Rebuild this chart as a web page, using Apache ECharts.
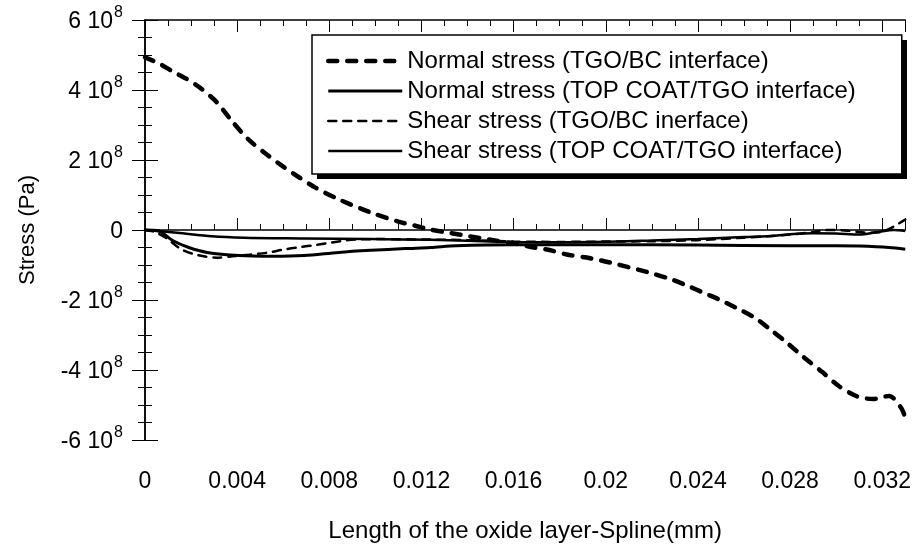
<!DOCTYPE html>
<html>
<head>
<meta charset="utf-8">
<script src="https://cdn.jsdelivr.net/npm/echarts@6/dist/echarts.min.js"></script>
<style>
  html, body { margin: 0; padding: 0; background: #fff; }
  #chart { width: 914px; height: 548px; }
</style>
</head>
<body>
<div id="chart"></div>
<script>
// Stress along the oxide layer spline. x in mm, stress in units of 1e8 Pa.
const normalTgoBc = [
  [0, 4.93], [0.0006, 4.76], [0.0012, 4.53], [0.0018, 4.32], [0.0024, 4.06],
  [0.0031, 3.66], [0.0038, 3.09], [0.0045, 2.58], [0.0053, 2.15], [0.0060, 1.81],
  [0.0067, 1.50], [0.0074, 1.21], [0.0084, 0.88], [0.0098, 0.50], [0.0110, 0.24],
  [0.0117, 0.13], [0.0124, 0.01], [0.0133, -0.09], [0.0149, -0.27], [0.0160, -0.38],
  [0.0169, -0.50], [0.0176, -0.58], [0.0183, -0.70], [0.0191, -0.78], [0.0198, -0.87],
  [0.0205, -0.98], [0.0219, -1.22], [0.0228, -1.40], [0.0235, -1.58], [0.0243, -1.81],
  [0.0249, -1.98], [0.0258, -2.27], [0.0265, -2.52], [0.0271, -2.82], [0.0279, -3.24],
  [0.0286, -3.64], [0.0294, -4.06], [0.0301, -4.45], [0.0309, -4.75], [0.0316, -4.83],
  [0.0323, -4.74], [0.0328, -5.06], [0.0330, -5.35]
];
const normalTopCoatTgo = [
  [0, 0], [0.0006, -0.03], [0.0012, -0.30], [0.0019, -0.50], [0.0027, -0.64],
  [0.0041, -0.73], [0.0055, -0.75], [0.0069, -0.73], [0.0084, -0.64], [0.0098, -0.58],
  [0.0113, -0.53], [0.0124, -0.50], [0.0135, -0.45], [0.0160, -0.42], [0.0200, -0.42],
  [0.0240, -0.43], [0.0280, -0.45], [0.0300, -0.45], [0.0310, -0.46], [0.0323, -0.50],
  [0.0330, -0.55]
];
const shearTgoBc = [
  [0, 0], [0.0004, -0.05], [0.0009, -0.22], [0.0016, -0.56], [0.0023, -0.72],
  [0.0031, -0.79], [0.0038, -0.75], [0.0053, -0.65], [0.0060, -0.56], [0.0067, -0.49],
  [0.0074, -0.43], [0.0081, -0.36], [0.0087, -0.30], [0.0092, -0.27], [0.0100, -0.26],
  [0.0120, -0.27], [0.0140, -0.29], [0.0160, -0.33], [0.0180, -0.34], [0.0200, -0.33],
  [0.0220, -0.32], [0.0240, -0.29], [0.0260, -0.22], [0.0270, -0.18], [0.0280, -0.13],
  [0.0290, -0.06], [0.0295, 0.0], [0.0300, 0.0], [0.0305, -0.02], [0.0310, -0.06],
  [0.0315, -0.08], [0.0320, -0.05], [0.0325, 0.10], [0.0330, 0.30]
];
const shearTopCoatTgo = [
  [0, 0], [0.0014, -0.08], [0.0029, -0.18], [0.0043, -0.22], [0.0069, -0.24],
  [0.0098, -0.26], [0.0124, -0.28], [0.0140, -0.31], [0.0160, -0.34], [0.0180, -0.35],
  [0.0205, -0.33], [0.0220, -0.30], [0.0240, -0.26], [0.0260, -0.20], [0.0270, -0.18],
  [0.0280, -0.12], [0.0290, -0.09], [0.0300, -0.10], [0.0310, -0.13], [0.0318, -0.06],
  [0.0325, 0.0], [0.0330, -0.03]
];

const seriesNames = [
  'Normal stress (TGO/BC interface)',
  'Normal stress (TOP COAT/TGO interface)',
  'Shear stress (TGO/BC inerface)',
  'Shear stress (TOP COAT/TGO interface)'
];
const xTickLabels = ['0', '0.004', '0.008', '0.012', '0.016', '0.02', '0.024', '0.028', '0.032'];
const yTickMantissas = ['-6', '-4', '-2', '0', '2', '4', '6'];

const X_MAX = 0.033, X_MAJOR = 0.004, X_MINOR = 0.001;
const Y_MIN = -6e8, Y_MAX = 6e8, Y_MAJOR = 2e8;
const FONT = '"Liberation Sans", Arial, Helvetica, sans-serif';

const toPa = pts => pts.map(p => [p[0], p[1] * 1e8]);

function xLabel(v) {
  const i = Math.round(v / X_MAJOR);
  if (Math.abs(v - i * X_MAJOR) > 1e-9 || i < 0 || i >= xTickLabels.length) return '';
  return xTickLabels[i];
}
function yLabel(v) {
  const i = Math.round((v - Y_MIN) / Y_MAJOR);
  const m = yTickMantissas[i];
  if (m === undefined) return '';
  if (m === '0') return '{b|0}';
  return '{b|' + m + ' 10}{s|8}';
}

// line styles shared by each series and its legend key
const styles = [
  { color: '#000', width: 4.5, type: [9, 10], cap: 'round' },
  { color: '#000', width: 3, type: 'solid' },
  { color: '#000', width: 2.5, type: [8, 7], cap: 'round' },
  { color: '#000', width: 2.5, type: 'solid' }
];
const seriesData = [normalTgoBc, normalTopCoatTgo, shearTgoBc, shearTopCoatTgo];

const frameLine = { show: true, lineStyle: { color: '#000', width: 1.5 } };

const xBase = { type: 'value', min: 0, max: X_MAX, splitLine: { show: false }, axisLine: frameLine };
const yBase = { type: 'value', min: Y_MIN, max: Y_MAX, interval: Y_MAJOR, splitLine: { show: false }, axisLine: frameLine };

// legend box geometry (box is left/top + padding + content), and its solid drop shadow
const LEGEND_LEFT = 312, LEGEND_TOP = 35, LEGEND_W = 590, LEGEND_H = 139, SHADOW = 5;

const chart = echarts.init(document.getElementById('chart'), null, { renderer: 'canvas' });
chart.setOption({
  backgroundColor: '#fff',
  animation: false,
  textStyle: { fontFamily: FONT, color: '#000' },
  grid: { left: 145, right: 5, top: 20, bottom: 108, containLabel: false },
  graphic: [{
    type: 'rect', z: 5, zlevel: 0,
    shape: { x: LEGEND_LEFT + SHADOW, y: LEGEND_TOP + SHADOW, width: LEGEND_W, height: LEGEND_H },
    style: { fill: '#000' }
  }],
  legend: {
    orient: 'vertical',
    left: LEGEND_LEFT,
    top: LEGEND_TOP,
    z: 6,
    data: seriesNames.map((name, i) => ({
      name: name,
      lineStyle: { color: '#000', width: styles[i].width, type: styles[i].type, cap: styles[i].cap || 'butt' }
    })),
    itemWidth: 74,
    itemHeight: 14,
    itemGap: 6,
    padding: [14, 46, 11, 14],
    backgroundColor: '#fff',
    borderColor: '#000',
    borderWidth: 1.5,
    borderRadius: 0,
    selectedMode: false,
    // line-only keys: hide the marker drawn on top of each key line
    itemStyle: { color: 'transparent', borderColor: 'transparent', borderWidth: 0, opacity: 0 },
    textStyle: { fontFamily: FONT, fontSize: 24, color: '#000' }
  },
  xAxis: [
    Object.assign({}, xBase, {
      position: 'bottom', interval: X_MAJOR,
      axisTick: { show: true, inside: true, length: 12, lineStyle: { color: '#000', width: 1 } },
      axisLabel: { show: true, margin: 30, fontSize: 23, color: '#000', fontFamily: FONT, formatter: xLabel },
      name: 'Length of the oxide layer-Spline(mm)',
      nameLocation: 'middle', nameGap: 79,
      nameTextStyle: { fontSize: 24, color: '#000', fontFamily: FONT }
    }),
    Object.assign({}, xBase, {
      position: 'bottom', interval: X_MINOR, axisLine: { show: false },
      axisTick: { show: true, inside: true, length: 6, lineStyle: { color: '#000', width: 1 } },
      axisLabel: { show: false }
    }),
    Object.assign({}, xBase, {
      position: 'top', interval: X_MAJOR,
      axisTick: { show: true, inside: true, length: 12, lineStyle: { color: '#000', width: 1 } },
      axisLabel: { show: false }
    }),
    Object.assign({}, xBase, {
      position: 'top', interval: X_MINOR, axisLine: { show: false },
      axisTick: { show: true, inside: true, length: 6, lineStyle: { color: '#000', width: 1 } },
      axisLabel: { show: false }
    })
  ],
  yAxis: [
    Object.assign({}, yBase, {
      position: 'left',
      axisTick: { show: true, inside: true, length: 13, lineStyle: { color: '#000', width: 1 } },
      minorTick: { show: true, splitNumber: 4, length: 7, lineStyle: { color: '#000', width: 1 } },
      axisLabel: {
        show: true, margin: 22, formatter: yLabel,
        rich: {
          b: { fontSize: 23, fontFamily: FONT, color: '#000', lineHeight: 26, verticalAlign: 'bottom' },
          s: { fontSize: 16, fontFamily: FONT, color: '#000', lineHeight: 16, verticalAlign: 'bottom', padding: [0, 0, 12, 1] }
        }
      },
      name: 'Stress (Pa)',
      nameLocation: 'middle', nameGap: 106,
      nameTextStyle: { fontSize: 22, color: '#000', fontFamily: FONT }
    }),
    Object.assign({}, yBase, {
      position: 'right',
      axisTick: { show: true, inside: true, length: 13, lineStyle: { color: '#000', width: 1 } },
      minorTick: { show: true, splitNumber: 4, length: 7, lineStyle: { color: '#000', width: 1 } },
      axisLabel: { show: false }
    })
  ],
  series: seriesNames.map((name, i) => ({
    name: name, type: 'line', data: toPa(seriesData[i]),
    smooth: 0.3, symbol: 'none', showSymbol: false, z: i === 0 ? 4 : 3,
    lineStyle: styles[i],
    itemStyle: { color: '#000' }
  }))
});
</script>
</body>
</html>
